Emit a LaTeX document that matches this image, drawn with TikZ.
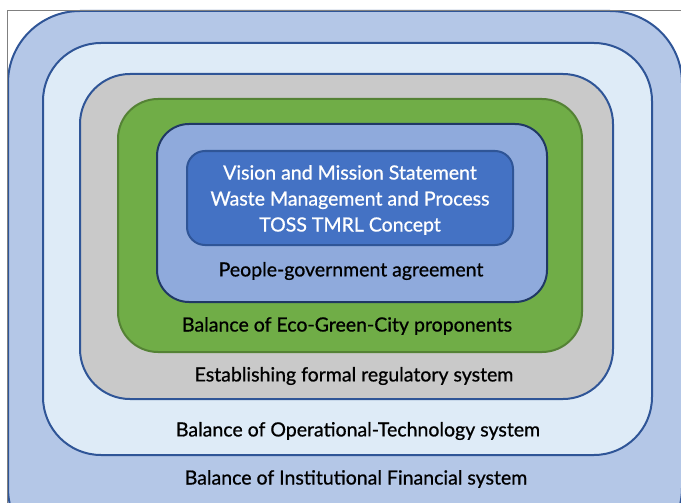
\documentclass[tikz,border=0pt]{standalone}
\usepackage{fontspec}
\setmainfont{Lato}
\newfontfamily\ringfont{Lato}[FakeBold=0.8]
\usetikzlibrary{calc}
\definecolor{outerblue}{HTML}{B4C7E7}
\definecolor{paleblue}{HTML}{DEEBF7}
\definecolor{midgray}{HTML}{C9C9C9}
\definecolor{leafgreen}{HTML}{70AD47}
\definecolor{darkgreen}{HTML}{548235}
\definecolor{softblue}{HTML}{8FAADC}
\definecolor{coreblue}{HTML}{4472C4}
\definecolor{edgeblue}{HTML}{2F5597}
\definecolor{navy}{HTML}{203864}

\begin{document}
\begin{tikzpicture}[x=1pt,y=-1pt,
    ring/.style={draw=edgeblue,line width=2pt},
    lbl/.style={font=\ringfont\fontsize{19.5}{26}\selectfont,text=black,inner sep=0}]
    \useasboundingbox (0,0) rectangle (681,503);

    \begin{scope}
    \clip (0,0) rectangle (681,503);
    \draw[ring,fill=outerblue,rounded corners=72pt] (8,11) rectangle (682,560);
    \end{scope}
    \draw[ring,fill=paleblue,rounded corners=58pt] (43,43) rectangle (652,455);
    \draw[ring,fill=midgray,rounded corners=50pt] (80,74) rectangle (613,399);
    \draw[ring,draw=darkgreen,fill=leafgreen,rounded corners=40pt] (118,99) rectangle (582,352);
    \draw[ring,draw=navy,fill=softblue,rounded corners=32pt] (157,124) rectangle (547,302);
    \draw[ring,fill=coreblue,rounded corners=18pt] (187,151) rectangle (513,245);

    \draw[gray,line width=0.8pt] (7,503) -- (7,10) -- (681,10);

    \node[lbl,text=white,align=center] (core) at (350,200)
        {Vision and Mission Statement\\Waste Management and Process\\TOSS TMRL Concept};
    \node[lbl] (people) at (351,271) {People-government agreement};
    \node[lbl] (eco) at (347,326) {Balance of Eco-Green-City proponents};
    \node[lbl] (rules) at (354,376) {Establishing formal regulatory system};
    \node[lbl] (tech) at (358,431) {Balance of Operational-Technology system};
    \node[lbl] (money) at (356,479) {Balance of Institutional Financial system};
\end{tikzpicture}
\end{document}
